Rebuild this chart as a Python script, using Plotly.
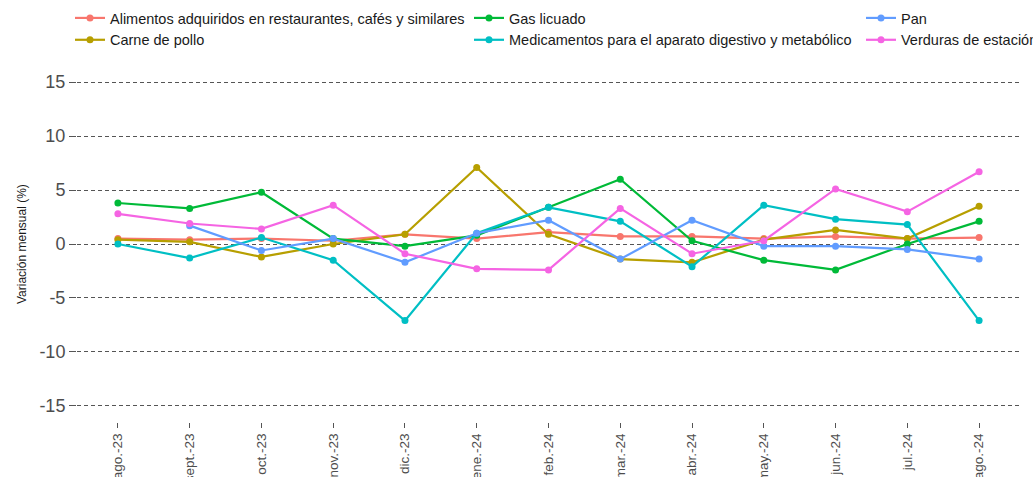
import plotly.graph_objects as go

months = ["ago.-23", "sept.-23", "oct.-23", "nov.-23", "dic.-23", "ene.-24", "feb.-24",
          "mar.-24", "abr.-24", "may.-24", "jun.-24", "jul.-24", "ago.-24"]

alimentos = [0.5, 0.4, 0.5, 0.3, 0.9, 0.5, 1.1, 0.7, 0.7, 0.5, 0.7, 0.5, 0.6]
carne_pollo = [0.4, 0.2, -1.2, 0.0, 0.9, 7.1, 0.9, -1.4, -1.7, 0.4, 1.3, 0.5, 3.5]
gas_licuado = [3.8, 3.3, 4.8, 0.5, -0.2, 0.8, 3.4, 6.0, 0.3, -1.5, -2.4, 0.0, 2.1]
medicamentos = [0.0, -1.3, 0.6, -1.5, -7.1, 1.0, 3.4, 2.1, -2.1, 3.6, 2.3, 1.8, -7.1]
pan = [None, 1.7, -0.6, 0.5, -1.7, 1.0, 2.2, -1.4, 2.2, -0.2, -0.2, -0.5, -1.4]
verduras = [2.8, 1.9, 1.4, 3.6, -0.9, -2.3, -2.4, 3.3, -0.9, 0.3, 5.1, 3.0, 6.7]

y_ticks = [-15, -10, -5, 0, 5, 10, 15]
y_tick_labels = ["-15", "-10", "-5", "0", "5", "10", "15"]

series = [
    ("Alimentos adquiridos en restaurantes, cafés y similares", alimentos, "#F8766D", "legend"),
    ("Carne de pollo", carne_pollo, "#B79F00", "legend"),
    ("Gas licuado", gas_licuado, "#00BA38", "legend2"),
    ("Medicamentos para el aparato digestivo y metabólico", medicamentos, "#00BFC4", "legend2"),
    ("Pan", pan, "#619CFF", "legend3"),
    ("Verduras de estación", verduras, "#F564E3", "legend3"),
]

fig = go.Figure()
for name, vals, color, lg in series:
    fig.add_trace(go.Scatter(
        x=months, y=vals, name=name, mode="lines+markers",
        line=dict(color=color, width=2.2),
        marker=dict(color=color, size=7),
        legend=lg, connectgaps=False,
    ))

font_family = "Liberation Sans, Arial, sans-serif"
legend_common = dict(
    orientation="v", xref="container", yref="container",
    yanchor="top", xanchor="left", y=1 - 2 / 477,
    font=dict(family=font_family, size=14.5, color="#1a1a1a"),
    bgcolor="rgba(0,0,0,0)", tracegroupgap=0, itemwidth=30,
)

fig.update_layout(
    width=1033, height=477,
    margin=dict(l=77, r=13, t=66, b=55, autoexpand=False),
    paper_bgcolor="white", plot_bgcolor="white",
    font=dict(family=font_family),
    legend=dict(legend_common, x=70 / 1033),
    legend2=dict(legend_common, x=469 / 1033),
    legend3=dict(legend_common, x=861 / 1033),
    xaxis=dict(
        type="category", range=[-0.57, 12.57],
        showgrid=False, zeroline=False, showline=False,
        ticks="outside", ticklen=5, tickcolor="#555555", tickwidth=1,
        tickangle=-90,
        tickfont=dict(family=font_family, size=13.5, color="#4d4d4d"),
        automargin=False,
    ),
    yaxis=dict(
        range=[-16.5, 16.5], tickvals=y_ticks, ticktext=y_tick_labels,
        showgrid=True, gridcolor="#555555", gridwidth=1, griddash="4px,3px",
        zeroline=False, showline=False,
        ticks="outside", ticklen=7, tickcolor="#555555", tickwidth=1,
        tickfont=dict(family=font_family, size=18, color="#4d4d4d"),
        automargin=False,
    ),
    annotations=[dict(
        text="Variación mensual (%)", textangle=-90,
        xref="paper", yref="paper", x=-(77 - 22) / 943, y=0.5,
        xanchor="center", yanchor="middle", showarrow=False,
        font=dict(family=font_family, size=12, color="#1a1a1a"),
    )],
)

fig.write_html("out.html", config={"displayModeBar": False},
               post_script="document.body.style.margin='0';")
